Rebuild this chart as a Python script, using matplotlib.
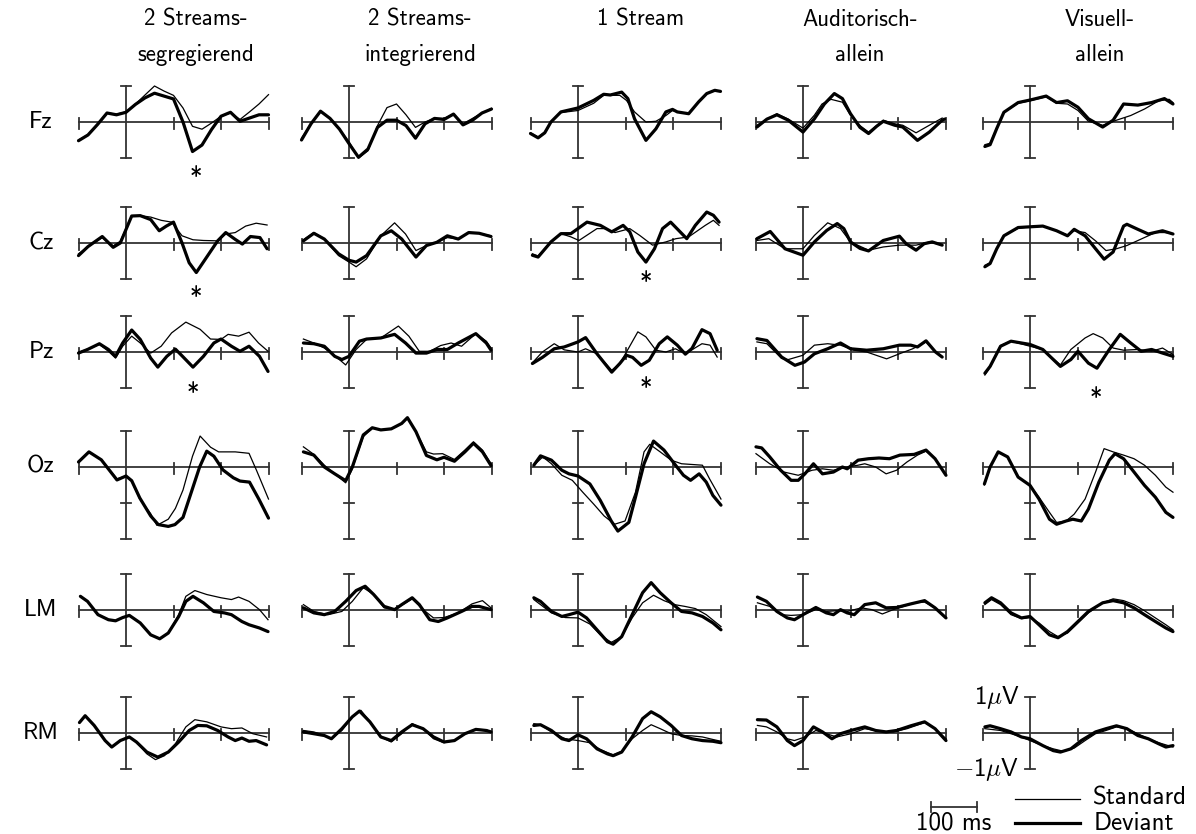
import matplotlib
matplotlib.use("Agg")
import matplotlib.pyplot as plt

plt.rcParams['font.family'] = ['cmss10', 'DejaVu Sans']
plt.rcParams['mathtext.fontset'] = 'cm'
plt.rcParams['axes.unicode_minus'] = False

conditions = ["2 Streams-\nsegregierend", "2 Streams-\nintegrierend", "1 Stream",
              "Auditorisch-\nallein", "Visuell-\nallein"]
electrodes = ["Fz", "Cz", "Pz", "Oz", "LM", "RM"]

# time in ms, amplitude in microvolt
T20 = list(range(-100, 301, 20))

# ---- Fz ----
FZ1_DEV = list(zip(T20, [-0.52, -0.36, -0.07, 0.25, 0.2, 0.27, 0.49, 0.67, 0.8, 0.72, 0.64,
                         0.0, -0.82, -0.64, -0.21, 0.16, 0.27, 0.02, 0.11, 0.2, 0.2]))
FZ1_STD = list(zip(T20, [-0.5, -0.35, -0.05, 0.25, 0.22, 0.28, 0.5, 0.75, 1.0, 0.86, 0.74,
                         0.39, -0.12, -0.2, -0.03, 0.16, 0.25, 0.07, 0.28, 0.5, 0.76]))
FZ2_DEV = list(zip(T20, [-0.5, -0.05, 0.3, 0.1, -0.2, -0.6, -0.98, -0.75, -0.15, 0.05, 0.05,
                         -0.1, -0.45, -0.05, 0.1, 0.07, 0.22, -0.08, 0.05, 0.25, 0.36]))
FZ2_STD = list(zip(T20, [-0.45, -0.05, 0.3, 0.1, -0.2, -0.55, -1.0, -0.8, -0.1, 0.4, 0.5,
                         0.2, -0.15, 0.0, 0.1, 0.1, 0.22, -0.05, 0.1, 0.25, 0.38]))
FZ3_DEV = [(-100, -0.32), (-84, -0.44), (-70, -0.3), (-57, 0.0), (-36, 0.28), (0, 0.39), (33, 0.6),
           (54, 0.77), (68, 0.75), (92, 0.83), (105, 0.65), (119, 0.09), (143, -0.51), (164, -0.19),
           (185, 0.28), (199, 0.35), (209, 0.28), (233, 0.23), (254, 0.56), (271, 0.79), (288, 0.88),
           (300, 0.85)]
FZ3_STD = [(-100, -0.3), (-84, -0.42), (-70, -0.28), (-57, 0.0), (-36, 0.26), (0, 0.32), (33, 0.52),
           (54, 0.74), (88, 0.74), (102, 0.6), (119, 0.28), (143, 0.0), (164, 0.02), (185, 0.18),
           (199, 0.32), (209, 0.28), (233, 0.23), (254, 0.56), (271, 0.79), (288, 0.88), (300, 0.85)]
FZ4_DEV = [(-97, -0.14), (-76, 0.08), (-55, 0.2), (-31, 0.05), (0, -0.28), (24, 0.09), (45, 0.5),
           (66, 0.79), (83, 0.65), (100, 0.23), (120, -0.15), (138, -0.32), (155, -0.12), (169, 0.02),
           (193, -0.09), (210, -0.14), (241, -0.51), (266, -0.28), (293, 0.05), (298, 0.08)]
FZ4_STD = [(-97, -0.09), (-76, 0.08), (-55, 0.23), (-31, 0.08), (0, -0.17), (24, 0.19), (40, 0.5),
           (59, 0.63), (83, 0.55), (100, 0.19), (120, -0.1), (138, -0.28), (155, -0.1), (169, 0.05),
           (193, -0.05), (210, -0.09), (238, -0.3), (266, -0.09), (293, 0.11)]
FZ5_DEV = [(-95, -0.68), (-84, -0.63), (-70, -0.18), (-55, 0.27), (-25, 0.54), (0, 0.61), (34, 0.72),
           (56, 0.54), (79, 0.59), (101, 0.41), (123, 0.09), (153, -0.14), (175, 0.05), (197, 0.5),
           (227, 0.47), (256, 0.54), (283, 0.65), (301, 0.5)]
FZ5_STD = [(-95, -0.63), (-84, -0.59), (-70, -0.16), (-55, 0.27), (-25, 0.52), (0, 0.59), (34, 0.7),
           (56, 0.52), (79, 0.5), (101, 0.32), (123, 0.02), (153, -0.09), (182, 0.05), (212, 0.18),
           (241, 0.36), (271, 0.59), (293, 0.63), (301, 0.54)]

# ---- Cz ----
CZ1_DEV = [(-100, -0.35), (-80, -0.1), (-50, 0.18), (-27, -0.12), (-12, 0.0), (12, 0.75), (30, 0.76),
           (52, 0.65), (70, 0.34), (85, 0.47), (100, 0.58), (118, 0.0), (133, -0.55), (148, -0.82),
           (170, -0.39), (193, 0.06), (210, 0.29), (230, 0.1), (245, -0.03), (262, 0.18), (282, 0.15),
           (297, -0.16)]
CZ1_STD = [(-100, -0.3), (-80, -0.1), (-50, 0.15), (-27, -0.08), (-12, 0.05), (12, 0.76), (30, 0.76),
           (52, 0.72), (74, 0.63), (96, 0.58), (118, 0.2), (141, 0.09), (163, 0.07), (193, 0.06),
           (210, 0.25), (230, 0.29), (252, 0.47), (274, 0.55), (297, 0.5)]
CZ2_DEV = [(-96, 0.06), (-74, 0.27), (-52, 0.11), (-22, -0.3), (0, -0.48), (15, -0.53), (37, -0.35),
           (67, 0.2), (89, 0.34), (111, 0.11), (141, -0.39), (163, -0.07), (185, 0.02), (207, 0.2),
           (230, 0.11), (252, 0.29), (274, 0.27), (299, 0.18)]
CZ2_STD = [(-96, 0.09), (-74, 0.29), (-52, 0.11), (-22, -0.35), (0, -0.53), (15, -0.66), (37, -0.44),
           (67, 0.2), (96, 0.56), (119, 0.25), (141, -0.21), (163, -0.07), (185, 0.02), (207, 0.15),
           (230, 0.11), (252, 0.29), (274, 0.27), (299, 0.2)]
CZ3_DEV = [(-96, -0.34), (-84, -0.39), (-57, 0.03), (-36, 0.26), (-15, 0.26), (19, 0.58), (47, 0.49),
           (71, 0.31), (95, 0.49), (109, 0.31), (126, -0.25), (143, -0.53), (161, -0.16), (178, 0.4),
           (195, 0.58), (212, 0.35), (229, 0.12), (247, 0.49), (271, 0.86), (285, 0.77), (297, 0.58)]
CZ3_STD = [(-96, -0.3), (-84, -0.36), (-57, 0.03), (-36, 0.26), (-15, 0.17), (2, 0.07), (40, 0.4),
           (58, 0.4), (78, 0.29), (109, 0.4), (130, 0.21), (157, -0.06), (185, 0.03), (206, 0.12),
           (233, 0.17), (268, 0.49), (285, 0.63), (297, 0.49)]
CZ4_DEV = [(-97, 0.12), (-69, 0.32), (-38, -0.16), (0, -0.34), (24, 0.03), (50, 0.35), (72, 0.54),
           (86, 0.4), (100, 0.03), (120, -0.15), (138, -0.22), (169, 0.07), (203, 0.19), (217, -0.02),
           (238, -0.2), (255, -0.02), (272, 0.03), (293, -0.06)]
CZ4_STD = [(-97, 0.07), (-72, 0.12), (-38, -0.16), (0, -0.16), (24, 0.21), (52, 0.56), (79, 0.4),
           (100, 0.03), (138, -0.2), (169, -0.11), (203, -0.06), (238, -0.06), (266, 0.03), (293, -0.06)]
CZ5_DEV = [(-95, -0.66), (-84, -0.57), (-70, -0.16), (-55, 0.2), (-25, 0.43), (0, 0.45), (27, 0.47),
           (56, 0.34), (79, 0.2), (93, 0.38), (116, 0.2), (138, -0.16), (156, -0.45), (175, -0.25),
           (197, 0.47), (204, 0.52), (227, 0.38), (249, 0.25), (279, 0.34), (301, 0.25)]
CZ5_STD = [(-95, -0.62), (-84, -0.55), (-70, -0.15), (-55, 0.2), (-25, 0.41), (0, 0.45), (27, 0.47),
           (56, 0.34), (79, 0.22), (93, 0.34), (116, 0.29), (138, 0.06), (160, -0.21), (182, -0.16),
           (204, -0.07), (234, 0.11), (264, 0.29), (286, 0.29), (301, 0.25)]

# ---- Pz ----
PZ1_DEV = [(-100, -0.03), (-81, 0.07), (-56, 0.23), (-37, 0.07), (-22, -0.12), (-7, 0.25), (12, 0.61),
           (30, 0.35), (52, -0.17), (67, -0.42), (86, -0.12), (104, 0.08), (119, -0.12), (141, -0.42),
           (163, -0.12), (185, 0.25), (200, 0.36), (222, 0.16), (240, 0.02), (259, 0.16), (281, -0.12),
           (299, -0.54)]
PZ1_STD = [(-100, -0.01), (-81, 0.08), (-56, 0.21), (-37, 0.02), (-22, -0.17), (-7, 0.16), (12, 0.44),
           (30, 0.25), (52, -0.03), (74, 0.16), (96, 0.53), (126, 0.83), (156, 0.63), (178, 0.36),
           (200, 0.35), (215, 0.49), (237, 0.44), (259, 0.55), (279, 0.25), (299, 0.02)]
PZ2_DEV = [(-96, 0.25), (-74, 0.23), (-52, 0.16), (-30, -0.12), (-15, -0.21), (0, -0.12), (22, 0.3),
           (37, 0.36), (67, 0.39), (96, 0.49), (119, 0.25), (141, -0.03), (163, -0.03), (185, 0.07),
           (207, 0.07), (230, 0.25), (267, 0.51), (289, 0.25), (299, 0.05)]
PZ2_STD = [(-96, 0.36), (-74, 0.25), (-52, 0.11), (-30, -0.1), (-7, -0.36), (15, 0.07), (37, 0.35),
           (67, 0.39), (104, 0.72), (126, 0.44), (148, 0.02), (170, 0.02), (193, 0.18), (215, 0.25),
           (237, 0.16), (267, 0.51), (289, 0.3), (299, 0.11)]
PZ3_DEV = [(-96, -0.32), (-75, -0.15), (-50, 0.09), (-29, 0.14), (0, 0.28), (16, 0.4), (40, -0.05),
           (71, -0.56), (88, -0.32), (102, -0.09), (115, -0.15), (133, -0.37), (150, -0.23), (171, 0.23),
           (188, 0.42), (209, 0.19), (226, -0.06), (240, 0.1), (261, 0.62), (278, 0.51), (293, 0.05)]
PZ3_STD = [(-96, -0.3), (-75, 0.0), (-50, 0.23), (-29, 0.06), (0, 0.0), (16, 0.09), (40, -0.05),
           (71, -0.51), (88, -0.32), (102, 0.0), (126, 0.56), (143, 0.42), (164, 0.05), (185, 0.0),
           (205, 0.09), (226, -0.05), (261, 0.23), (278, 0.19), (293, -0.14)]
PZ4_DEV = [(-97, 0.37), (-76, 0.32), (-45, -0.14), (-17, -0.37), (3, -0.28), (24, -0.05), (52, 0.09),
           (79, 0.25), (100, 0.09), (134, 0.05), (169, 0.09), (203, 0.19), (227, 0.19), (241, 0.14),
           (259, 0.31), (279, 0.0), (293, -0.14)]
PZ4_STD = [(-97, 0.28), (-76, 0.23), (-45, -0.18), (-31, -0.21), (0, -0.09), (24, 0.19), (52, 0.23),
           (79, 0.19), (107, 0.05), (134, 0.0), (176, -0.19), (203, -0.05), (231, 0.09), (259, 0.28),
           (279, 0.0), (293, -0.14)]
PZ5_DEV = [(-95, -0.59), (-84, -0.4), (-62, 0.16), (-40, 0.3), (0, 0.21), (27, 0.07), (64, -0.4),
           (86, -0.21), (101, 0.02), (123, -0.31), (141, -0.45), (167, 0.07), (190, 0.49), (212, 0.25),
           (234, 0.02), (256, 0.07), (279, -0.03), (301, -0.12)]
PZ5_STD = [(-95, -0.64), (-84, -0.42), (-62, 0.18), (-40, 0.3), (0, 0.16), (27, 0.07), (64, -0.36),
           (86, 0.07), (116, 0.39), (133, 0.51), (153, 0.39), (175, 0.11), (197, 0.05), (227, 0.07),
           (256, 0.02), (279, 0.11), (301, -0.07)]

# ---- Oz ----
OZ1_DEV = [(-100, 0.14), (-78, 0.42), (-52, 0.2), (-19, -0.36), (0, -0.25), (12, -0.38), (29, -0.86),
           (52, -1.36), (68, -1.6), (89, -1.65), (103, -1.6), (120, -1.4), (140, -0.6), (155, 0.0),
           (170, 0.44), (185, 0.3), (204, -0.08), (226, -0.3), (240, -0.39), (260, -0.42), (280, -0.9),
           (300, -1.42)]
OZ1_STD = [(-100, 0.14), (-78, 0.42), (-52, 0.2), (-19, -0.33), (0, -0.25), (12, -0.4), (29, -0.89),
           (52, -1.3), (65, -1.62), (89, -1.45), (104, -1.15), (120, -0.64), (140, 0.3), (156, 0.86),
           (178, 0.55), (195, 0.42), (230, 0.42), (259, 0.38), (275, -0.1), (300, -0.89)]
OZ2_DEV = [(-96, 0.42), (-74, 0.33), (-52, 0.0), (-30, -0.19), (-7, -0.38), (7, 0.0), (30, 0.89),
           (49, 1.09), (67, 1.03), (89, 1.06), (111, 1.21), (123, 1.37), (141, 0.98), (163, 0.32),
           (185, 0.2), (200, 0.27), (222, 0.16), (244, 0.42), (262, 0.66), (281, 0.42), (299, 0.04)]
OZ2_STD = [(-96, 0.56), (-74, 0.35), (-52, 0.05), (-30, -0.19), (-7, -0.44), (7, -0.05), (30, 0.84),
           (49, 1.09), (67, 1.03), (89, 1.06), (111, 1.21), (123, 1.37), (141, 0.98), (163, 0.42),
           (178, 0.36), (197, 0.37), (222, 0.21), (244, 0.47), (262, 0.7), (281, 0.47), (299, 0.09)]
OZ3_DEV = [(-93, 0.05), (-79, 0.31), (-56, 0.19), (-34, -0.09), (-19, -0.19), (0, -0.25), (25, -0.47),
           (47, -0.93), (70, -1.5), (84, -1.78), (107, -1.54), (121, -0.84), (139, 0.09), (159, 0.72),
           (181, 0.47), (203, 0.09), (222, -0.23), (237, -0.37), (255, -0.19), (270, -0.42),
           (284, -0.79), (301, -1.06)]
OZ3_STD = [(-93, 0.05), (-74, 0.28), (-56, 0.09), (-34, -0.23), (-12, -0.37), (10, -0.7), (33, -1.03),
           (55, -1.36), (77, -1.59), (99, -1.5), (121, -0.7), (139, 0.42), (151, 0.63), (173, 0.42),
           (196, 0.19), (218, 0.09), (240, 0.07), (262, 0.05), (277, -0.33), (301, -0.89)]
OZ4_DEV = [(-99, 0.56), (-87, 0.53), (-70, 0.28), (-47, -0.09), (-25, -0.37), (-10, -0.37), (4, -0.19),
           (22, 0.09), (41, -0.19), (64, -0.14), (83, 0.0), (93, -0.05), (116, 0.19), (138, 0.23),
           (160, 0.25), (182, 0.23), (204, 0.33), (234, 0.35), (259, 0.47), (278, 0.23), (301, -0.23)]
OZ4_STD = [(-99, 0.37), (-70, 0.09), (-40, -0.14), (-10, -0.23), (19, -0.09), (41, -0.05), (64, -0.09),
           (93, 0.0), (116, 0.05), (130, 0.09), (153, 0.0), (175, -0.19), (197, -0.09), (219, 0.14),
           (241, 0.33), (259, 0.44), (278, 0.23), (301, -0.23)]
OZ5_DEV = [(-96, -0.47), (-84, 0.0), (-67, 0.42), (-47, 0.28), (-25, -0.28), (0, -0.51), (19, -0.89),
           (41, -1.45), (56, -1.59), (76, -1.5), (90, -1.45), (108, -1.5), (123, -1.17), (145, -0.42),
           (167, 0.19), (179, 0.37), (197, 0.23), (219, -0.14), (241, -0.51), (264, -0.84),
           (286, -1.26), (301, -1.4)]
OZ5_STD = [(-96, -0.5), (-84, -0.03), (-67, 0.42), (-47, 0.28), (-25, -0.28), (0, -0.51), (19, -0.84),
           (41, -1.26), (56, -1.54), (76, -1.5), (93, -1.31), (116, -0.89), (138, -0.14), (156, 0.51),
           (175, 0.42), (197, 0.33), (219, 0.23), (241, 0.05), (264, -0.23), (286, -0.56), (301, -0.7)]

# ---- LM ----
LM1_DEV = [(-96, 0.38), (-81, 0.24), (-59, -0.13), (-37, -0.27), (-22, -0.3), (-7, -0.21), (7, -0.15),
           (30, -0.36), (52, -0.69), (71, -0.8), (89, -0.64), (111, -0.18), (126, 0.24), (141, 0.38),
           (163, 0.2), (185, -0.04), (207, -0.08), (222, -0.13), (244, -0.32), (259, -0.41),
           (281, -0.5), (299, -0.6)]
LM1_STD = [(-96, 0.38), (-81, 0.24), (-59, -0.13), (-37, -0.27), (-22, -0.3), (-7, -0.21), (7, -0.15),
           (30, -0.36), (52, -0.69), (71, -0.8), (89, -0.64), (111, -0.13), (126, 0.38), (145, 0.54),
           (170, 0.43), (200, 0.34), (222, 0.29), (237, 0.36), (259, 0.24), (281, 0.01), (299, -0.27)]
LM2_DEV = [(-96, 0.06), (-74, -0.08), (-52, -0.13), (-30, -0.04), (-7, 0.24), (15, 0.54), (34, 0.66),
           (52, 0.43), (74, 0.1), (96, 0.01), (111, 0.15), (133, 0.34), (148, 0.15), (170, -0.27),
           (188, -0.32), (207, -0.22), (237, -0.04), (259, 0.1), (274, 0.1), (299, 0.01)]
LM2_STD = [(-96, 0.15), (-74, -0.04), (-44, -0.13), (-15, -0.04), (7, 0.24), (30, 0.62), (52, 0.43),
           (74, 0.06), (96, 0.01), (133, 0.31), (156, 0.01), (178, -0.22), (200, -0.21), (230, -0.08),
           (259, 0.17), (281, 0.26), (299, 0.06)]
LM3_DEV = [(-93, 0.34), (-79, 0.24), (-56, -0.04), (-34, -0.18), (-19, -0.13), (0, -0.06), (18, -0.22),
           (40, -0.55), (62, -0.88), (74, -0.95), (92, -0.74), (114, -0.13), (136, 0.48), (154, 0.76),
           (173, 0.48), (196, 0.2), (218, -0.04), (240, -0.08), (262, -0.18), (284, -0.36),
           (301, -0.55)]
LM3_STD = [(-93, 0.29), (-56, -0.08), (-27, -0.21), (0, -0.22), (25, -0.39), (47, -0.69), (70, -0.9),
           (92, -0.74), (114, -0.22), (136, 0.2), (159, 0.41), (181, 0.26), (203, 0.15), (225, 0.1),
           (247, 0.04), (270, -0.13), (301, -0.46)]
LM4_DEV = [(-96, 0.36), (-77, 0.24), (-55, -0.04), (-33, -0.22), (-18, -0.27), (0, -0.13), (27, 0.07),
           (49, -0.08), (64, -0.13), (79, 0.01), (93, -0.08), (108, -0.13), (130, 0.15), (153, 0.2),
           (175, 0.06), (197, 0.07), (227, 0.17), (256, 0.26), (278, 0.06), (301, -0.22)]
LM4_STD = [(-96, 0.2), (-70, 0.1), (-47, -0.13), (-25, -0.15), (0, -0.13), (27, 0.01), (49, -0.04),
           (71, -0.02), (93, -0.04), (123, 0.06), (145, 0.01), (167, -0.11), (190, 0.01), (212, 0.1),
           (234, 0.2), (256, 0.22), (278, 0.06), (301, -0.21)]
LM5_DEV = [(-95, 0.2), (-81, 0.34), (-62, 0.2), (-40, -0.08), (-18, -0.22), (0, -0.18), (19, -0.41),
           (41, -0.69), (59, -0.77), (79, -0.6), (101, -0.32), (123, -0.04), (153, 0.2), (175, 0.26),
           (197, 0.2), (219, 0.06), (241, -0.13), (264, -0.32), (286, -0.5), (301, -0.6)]
LM5_STD = [(-95, 0.15), (-81, 0.29), (-62, 0.15), (-40, -0.13), (-18, -0.24), (0, -0.21), (19, -0.36),
           (41, -0.6), (59, -0.74), (79, -0.64), (101, -0.36), (123, -0.08), (153, 0.2), (175, 0.31),
           (197, 0.26), (219, 0.15), (241, -0.02), (264, -0.22), (286, -0.41), (301, -0.55)]

# ---- RM ----
RM1_DEV = [(-98, 0.29), (-86, 0.48), (-67, 0.21), (-44, -0.21), (-30, -0.39), (-12, -0.21), (7, -0.11),
           (22, -0.25), (44, -0.53), (67, -0.67), (89, -0.53), (111, -0.25), (133, 0.07), (151, 0.21),
           (170, 0.2), (193, 0.07), (215, -0.11), (230, -0.21), (244, -0.14), (259, -0.23),
           (274, -0.21), (296, -0.33)]
RM1_STD = [(-98, 0.29), (-86, 0.48), (-67, 0.21), (-44, -0.21), (-30, -0.39), (-12, -0.21), (7, -0.11),
           (22, -0.25), (44, -0.58), (62, -0.74), (81, -0.63), (104, -0.3), (126, 0.17), (145, 0.37),
           (170, 0.31), (200, 0.17), (222, 0.12), (244, 0.14), (267, -0.02), (296, -0.11)]
RM2_DEV = [(-96, 0.03), (-74, -0.02), (-52, -0.07), (-37, -0.16), (-15, 0.12), (7, 0.45), (22, 0.61),
           (44, 0.31), (67, -0.11), (89, -0.21), (111, 0.03), (133, 0.23), (156, 0.12), (178, -0.11),
           (200, -0.25), (222, -0.21), (244, -0.02), (267, 0.1), (289, 0.07), (299, 0.03)]
RM2_STD = [(-96, 0.07), (-74, 0.03), (-52, -0.07), (-37, -0.16), (-15, 0.07), (7, 0.45), (25, 0.63),
           (44, 0.31), (67, -0.11), (89, -0.25), (111, -0.02), (133, 0.26), (156, 0.12), (178, -0.16),
           (200, -0.27), (222, -0.21), (244, -0.02), (267, 0.1), (289, 0.09), (299, 0.03)]
RM3_DEV = [(-93, 0.21), (-79, 0.23), (-56, 0.07), (-34, -0.16), (-19, -0.21), (0, -0.05), (18, -0.16),
           (40, -0.44), (62, -0.58), (74, -0.63), (92, -0.53), (114, -0.11), (136, 0.4), (154, 0.59),
           (173, 0.45), (196, 0.21), (218, -0.07), (240, -0.16), (262, -0.21), (284, -0.23),
           (301, -0.27)]
RM3_STD = [(-93, 0.26), (-79, 0.23), (-56, 0.03), (-27, -0.16), (0, -0.21), (25, -0.27), (47, -0.46),
           (74, -0.61), (92, -0.51), (114, -0.16), (136, 0.07), (154, 0.23), (173, 0.12), (196, -0.02),
           (218, -0.07), (240, -0.08), (262, -0.11), (284, -0.18), (301, -0.23)]
RM4_DEV = [(-96, 0.37), (-77, 0.36), (-55, 0.17), (-33, -0.21), (-18, -0.35), (0, -0.21), (22, 0.17),
           (41, 0.03), (61, -0.16), (79, -0.02), (101, 0.07), (130, 0.17), (153, 0.07), (175, 0.03),
           (197, 0.07), (227, 0.2), (256, 0.31), (278, 0.12), (301, -0.21)]
RM4_STD = [(-96, 0.21), (-77, 0.17), (-55, 0.03), (-33, -0.16), (-18, -0.21), (4, -0.11), (27, 0.07),
           (49, -0.02), (71, -0.11), (101, -0.02), (130, 0.12), (160, 0.05), (190, 0.03), (219, 0.12),
           (256, 0.29), (278, 0.12), (301, -0.16)]
RM5_DEV = [(-95, 0.17), (-84, 0.2), (-62, 0.12), (-40, 0.03), (-18, -0.11), (0, -0.16), (27, -0.35),
           (49, -0.49), (64, -0.53), (86, -0.44), (108, -0.21), (138, 0.03), (160, 0.12), (182, 0.2),
           (204, 0.12), (227, -0.07), (249, -0.16), (271, -0.3), (286, -0.39), (301, -0.35)]
RM5_STD = [(-95, 0.12), (-62, 0.07), (-40, -0.02), (-18, -0.11), (0, -0.21), (27, -0.35), (49, -0.44),
           (71, -0.51), (93, -0.42), (116, -0.21), (138, -0.02), (160, 0.07), (182, 0.17), (204, 0.12),
           (227, -0.02), (249, -0.16), (271, -0.27), (286, -0.33), (301, -0.39)]

curves = {
    (0, 0): (FZ1_STD, FZ1_DEV), (0, 1): (FZ2_STD, FZ2_DEV), (0, 2): (FZ3_STD, FZ3_DEV),
    (0, 3): (FZ4_STD, FZ4_DEV), (0, 4): (FZ5_STD, FZ5_DEV),
    (1, 0): (CZ1_STD, CZ1_DEV), (1, 1): (CZ2_STD, CZ2_DEV), (1, 2): (CZ3_STD, CZ3_DEV),
    (1, 3): (CZ4_STD, CZ4_DEV), (1, 4): (CZ5_STD, CZ5_DEV),
    (2, 0): (PZ1_STD, PZ1_DEV), (2, 1): (PZ2_STD, PZ2_DEV), (2, 2): (PZ3_STD, PZ3_DEV),
    (2, 3): (PZ4_STD, PZ4_DEV), (2, 4): (PZ5_STD, PZ5_DEV),
    (3, 0): (OZ1_STD, OZ1_DEV), (3, 1): (OZ2_STD, OZ2_DEV), (3, 2): (OZ3_STD, OZ3_DEV),
    (3, 3): (OZ4_STD, OZ4_DEV), (3, 4): (OZ5_STD, OZ5_DEV),
    (4, 0): (LM1_STD, LM1_DEV), (4, 1): (LM2_STD, LM2_DEV), (4, 2): (LM3_STD, LM3_DEV),
    (4, 3): (LM4_STD, LM4_DEV), (4, 4): (LM5_STD, LM5_DEV),
    (5, 0): (RM1_STD, RM1_DEV), (5, 1): (RM2_STD, RM2_DEV), (5, 2): (RM3_STD, RM3_DEV),
    (5, 3): (RM4_STD, RM4_DEV), (5, 4): (RM5_STD, RM5_DEV),
}

# significant differences: (row, col, ms, uV)
sig_marks = [(0, 0, 147, -1.58), (1, 0, 147, -1.55), (2, 0, 141, -1.18),
             (1, 2, 143, -1.13), (2, 2, 143, -1.04), (2, 4, 139, -1.33)]

# layout (pixels)
W, H = 1196, 834
col_x0 = [126, 349, 578, 803, 1030]
row_y0 = [122, 243, 352, 467, 610, 733]
title_x = [196, 420, 641, 860, 1100]
PX_MS = 0.475
PX_UV = 36.0
XL = (-250, 350)
YL = (-2.8, 1.8)
AX_C = '#333333'
FS = 16.5
FS_SMALL = 18

fig = plt.figure(figsize=(W / 100, H / 100), dpi=100)


def make_panel(r, c):
    left = col_x0[c] + XL[0] * PX_MS
    top = row_y0[r] - YL[1] * PX_UV
    w = (XL[1] - XL[0]) * PX_MS
    h = (YL[1] - YL[0]) * PX_UV
    ax = fig.add_axes([left / W, 1 - (top + h) / H, w / W, h / H])
    ax.set_xlim(XL)
    ax.set_ylim(YL)
    ax.axis('off')
    return ax


def draw_axes(ax, bottom):
    kw = dict(color=AX_C, lw=1.3, clip_on=False, zorder=1)
    ax.plot([-100, 300], [0, 0], **kw)
    for t in [-100, 100, 200, 300]:
        ax.plot([t, t], [0.12, -0.2], **kw)
    ax.plot([0, 0], [1, bottom], **kw)
    caps = [1, -1] if bottom == -1 else [1, -1, -2]
    for v in caps:
        ax.plot([-11, 11], [v, v], **kw)


axes = {}
for r in range(len(electrodes)):
    for c in range(len(conditions)):
        ax = make_panel(r, c)
        axes[r, c] = ax
        draw_axes(ax, -2 if electrodes[r] == "Oz" else -1)
        std, dev = curves[r, c]
        ax.plot([p[0] for p in std], [p[1] for p in std], color='black', lw=0.9,
                solid_joinstyle='round', clip_on=False, zorder=3)
        ax.plot([p[0] for p in dev], [p[1] for p in dev], color='black', lw=2.3,
                solid_joinstyle='round', solid_capstyle='round', clip_on=False, zorder=4)

for r, c, t, v in sig_marks:
    axes[r, c].text(t, v, '*', ha='center', va='center', fontsize=18)

for c, name in enumerate(conditions):
    fig.text(title_x[c] / W, 1 - 9 / H, name, ha='center', va='top', fontsize=FS, linespacing=1.75)

for r, name in enumerate(electrodes):
    fig.text(41 / W, 1 - row_y0[r] / H, name, ha='center', va='center', fontsize=17)

# scale labels, time bar and legend in the last panel
ax = axes[5, 4]
ax.text(-22, 1.0, r'1$\mu$V', ha='right', va='center', fontsize=FS_SMALL)
ax.text(-22, -1.0, r'$-$1$\mu$V', ha='right', va='center', fontsize=FS_SMALL)
kw = dict(color=AX_C, lw=1.3, clip_on=False)
ax.plot([-208, -112], [-2.06, -2.06], **kw)
ax.plot([-208, -208], [-1.93, -2.19], **kw)
ax.plot([-112, -112], [-1.93, -2.19], **kw)
ax.text(-160, -2.5, '100 ms', ha='center', va='center', fontsize=FS_SMALL)
ax.plot([-32, 105], [-1.82, -1.82], color='black', lw=0.9, clip_on=False)
ax.plot([-32, 105], [-2.5, -2.5], color='black', lw=2.3, clip_on=False)
ax.text(133, -1.8, 'Standard', ha='left', va='center', fontsize=FS_SMALL)
ax.text(133, -2.5, 'Deviant', ha='left', va='center', fontsize=FS_SMALL)

fig.savefig('out.png', dpi=100)
